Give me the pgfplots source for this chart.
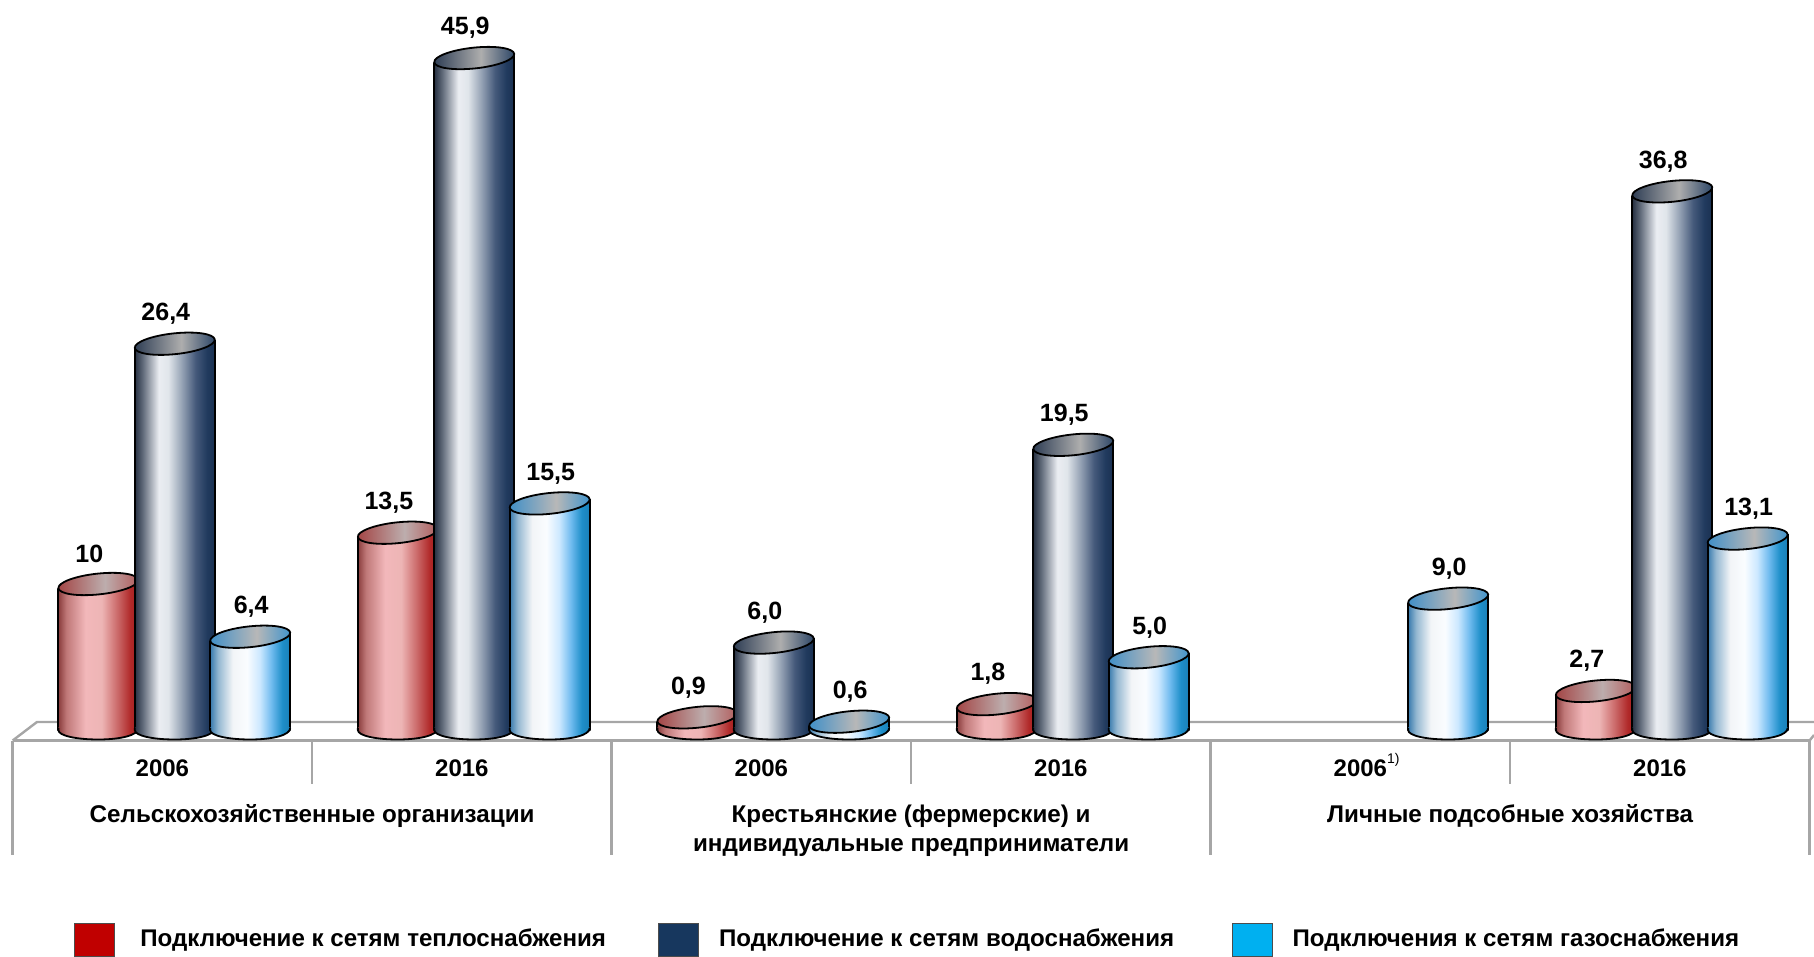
\documentclass[border=0pt]{standalone}
\usepackage{fontspec}
\setmainfont{Liberation Sans}
\usepackage{pgfplots}
\usepackage{pgfplotstable}
\pgfplotsset{compat=1.18}

\pgfplotstableread{
x y lab
0 10.0 10
1 13.5 13,5
2 0.9 0,9
3 1.8 1,8
5 2.7 2,7
}\redT
\pgfplotstableread{
x y lab
0 26.4 26,4
1 45.9 45,9
2 6.0 6,0
3 19.5 19,5
5 36.8 36,8
}\navyT
\pgfplotstableread{
x y lab
0 6.4 6,4
1 15.5 15,5
2 0.6 0,6
3 5.0 5,0
4 9.0 9,0
5 13.1 13,1
}\blueT

\pgfdeclarehorizontalshading{redcyl}{100bp}{
 rgb(0bp)=(0.54,0.24,0.24); rgb(25bp)=(0.54,0.24,0.24); rgb(30bp)=(0.75,0.47,0.47);
 rgb(42bp)=(0.95,0.72,0.73); rgb(52bp)=(0.93,0.71,0.71); rgb(63bp)=(0.78,0.38,0.38);
 rgb(70bp)=(0.69,0.16,0.16); rgb(75bp)=(0.64,0.12,0.12); rgb(100bp)=(0.64,0.12,0.12)}
\pgfdeclarehorizontalshading{navycyl}{100bp}{
 rgb(0bp)=(0.15,0.19,0.26); rgb(25bp)=(0.15,0.19,0.26); rgb(30bp)=(0.38,0.42,0.48);
 rgb(40bp)=(0.92,0.93,0.95); rgb(46bp)=(0.88,0.90,0.92); rgb(54bp)=(0.60,0.65,0.72);
 rgb(63bp)=(0.27,0.35,0.48); rgb(70bp)=(0.13,0.23,0.37); rgb(75bp)=(0.10,0.19,0.32); rgb(100bp)=(0.10,0.19,0.32)}
\pgfdeclarehorizontalshading{bluecyl}{100bp}{
 rgb(0bp)=(0.22,0.48,0.68); rgb(25bp)=(0.22,0.48,0.68); rgb(30bp)=(0.58,0.72,0.82);
 rgb(39bp)=(0.95,0.96,0.97); rgb(48bp)=(0.98,0.99,1.00); rgb(56bp)=(0.80,0.91,1.00);
 rgb(63bp)=(0.45,0.74,0.94); rgb(70bp)=(0.12,0.56,0.79); rgb(75bp)=(0.10,0.50,0.72); rgb(100bp)=(0.10,0.50,0.72)}
\pgfdeclarehorizontalshading{redcap}{100bp}{
 rgb(0bp)=(0.64,0.27,0.27); rgb(25bp)=(0.64,0.27,0.27); rgb(54bp)=(0.74,0.68,0.68);
 rgb(75bp)=(0.70,0.36,0.36); rgb(100bp)=(0.70,0.36,0.36)}
\pgfdeclarehorizontalshading{navycap}{100bp}{
 rgb(0bp)=(0.18,0.24,0.33); rgb(25bp)=(0.18,0.24,0.33); rgb(54bp)=(0.68,0.68,0.68);
 rgb(75bp)=(0.17,0.27,0.40); rgb(100bp)=(0.17,0.27,0.40)}
\pgfdeclarehorizontalshading{bluecap}{100bp}{
 rgb(0bp)=(0.25,0.56,0.78); rgb(25bp)=(0.25,0.56,0.78); rgb(54bp)=(0.72,0.72,0.72);
 rgb(75bp)=(0.25,0.58,0.80); rgb(100bp)=(0.25,0.58,0.80)}

\definecolor{gridgrey}{HTML}{A6A6A6}
\definecolor{legred}{HTML}{C00000}
\definecolor{legnavy}{HTML}{17375E}
\definecolor{legblue}{HTML}{00B0F0}

\newcommand{\defcyl}[1]{%
 \pgfdeclareplotmark{#1top}{%
  \begin{pgfscope}
   \pgfpathmoveto{\pgfpoint{-20pt}{-2.3pt}}
   \pgfpathlineto{\pgfpoint{20pt}{-2.3pt}}
   \pgfpathlineto{\pgfpoint{20pt}{2.2pt}}
   \pgfpathclose
   \pgfshadepath{#1cyl}{0}
   \pgfusepath{discard}
  \end{pgfscope}
  \path[draw=black,line width=0.9pt] (20pt,-2.4pt) -- (20pt,2.1pt);
  \path[draw=black,line width=0.9pt,shade,shading=#1cap]
     (19.99pt,2.10pt) .. controls (19.69pt,4.96pt) and (10.50pt,6.33pt) .. (-0.54pt,5.17pt)
     .. controls (-11.58pt,4.01pt) and (-20.29pt,0.75pt) .. (-19.99pt,-2.10pt)
     .. controls (-19.69pt,-4.96pt) and (-10.50pt,-6.33pt) .. (0.54pt,-5.17pt)
     .. controls (11.58pt,-4.01pt) and (20.29pt,-0.75pt) .. (19.99pt,2.10pt) -- cycle;
 }%
 \pgfdeclareplotmark{#1bot}{%
  \begin{pgfscope}
   \pgfpathmoveto{\pgfpoint{-20pt}{1pt}}
   \pgfpathlineto{\pgfpoint{-20pt}{-0.4pt}}
   \pgfpathcurveto{\pgfpoint{-20pt}{-3.2pt}}{\pgfpoint{-11pt}{-5.1pt}}{\pgfpoint{0pt}{-5.1pt}}
   \pgfpathcurveto{\pgfpoint{11pt}{-5.1pt}}{\pgfpoint{20pt}{-3pt}}{\pgfpoint{20pt}{0.6pt}}
   \pgfpathlineto{\pgfpoint{20pt}{1pt}}
   \pgfpathclose
   \pgfshadepath{#1cyl}{0}
   \pgfusepath{discard}
  \end{pgfscope}
  \path[draw=black,line width=0.9pt] (-20pt,0.6pt) -- (-20pt,-0.4pt)
     .. controls (-20pt,-3.2pt) and (-11pt,-5.1pt) .. (0pt,-5.1pt)
     .. controls (11pt,-5.1pt) and (20pt,-3pt) .. (20pt,0.6pt);
 }%
}
\defcyl{red}
\defcyl{navy}
\defcyl{blue}

% #1 table, #2 name, #3 shift in pt, #4 label xshift in pt, #5 categories
\newcommand{\cyl}[5]{%
 \pgfplotsinvokeforeach{#5}{%
  \addplot[forget plot,ybar,bar width=40pt,bar shift=#3pt,shade,shading=#2cyl,
    restrict x to domain=##1:##1,draw=none,draw opacity=0,line width=0.01pt,
    y filter/.expression={y-0.3}] table[x=x,y=y] {#1};
 }%
 \addplot[forget plot,ybar,bar width=0pt,bar shift=#3pt-20pt,draw=black,line width=0.9pt,
   y filter/.expression={y-0.3}] table[x=x,y=y] {#1};
 \addplot[forget plot,ybar,bar width=0pt,bar shift=#3pt+20pt,draw=black,line width=0.9pt,
   y filter/.expression={y-0.3}] table[x=x,y=y] {#1};
 \addplot[forget plot,only marks,mark=#2bot,mark options={xshift=#3pt,yshift=0.6pt}]
   table[x=x,y expr=0] {#1};
 \addplot[forget plot,only marks,mark=#2top,mark options={xshift=#3pt},
   point meta=explicit symbolic,nodes near coords,
   every node near coord/.append style={anchor=center,xshift=#4pt,yshift=15pt,
     font=\bfseries\fontsize{12.5}{14}\selectfont,text=black,inner sep=0pt}]
   table[x=x,y=y,meta=lab] {#1};
}

\begin{document}
\begin{tikzpicture}
\begin{axis}[
  scale only axis, width=907pt, height=478.5pt,
  xmin=-0.5422, xmax=5.5147, ymin=-15.46, ymax=49.863,
  axis line style={draw=none}, tick style={draw=none}, major tick length=0pt,
  ytick=\empty, xtick={0,1,2,3,4,5},
  xticklabels={2006,2016,2006,2016,{2006\rlap{\raisebox{1.05ex}{\fontsize{7}{7}\selectfont\mdseries 1)}}},2016},
  xticklabel style={anchor=base,yshift=90.2pt,font=\bfseries\fontsize{12}{14}\selectfont},
  clip=true, clip mode=individual, clip marker paths=true,
  legend columns=3,
  legend style={at={(rel axis cs:0.0408,0)},anchor=south west,draw=none,fill=none,inner sep=0pt,
    font=\bfseries\fontsize{12.05}{14}\selectfont,
    /tikz/every even column/.append style={column sep=18.8pt},
    nodes={inner xsep=10pt,inner ysep=0pt}},
  legend cell align=left,
  legend image code/.code={\draw[#1] (0pt,-8.3pt) rectangle (20pt,8.3pt);},
]
\addlegendimage{fill=legred,draw=black!70}
\addlegendentry{\kern2.6ptПодключение к сетям теплоснабжения\kern-2.6pt}
\addlegendimage{fill=legnavy,draw=black!70}
\addlegendentry{Подключение к сетям водоснабжения}
\addlegendimage{fill=legblue,draw=black!70}
\addlegendentry{Подключения к сетям газоснабжения}

\addplot[forget plot,gridgrey,line width=1.2pt] coordinates {(-0.5,-0.683) (5.5,-0.683)};
\addplot[forget plot,gridgrey,line width=1.2pt] coordinates {(-0.5,-0.683) (-0.4187,0.58) (5.5147,0.58)};
\addplot[forget plot,gridgrey,line width=1.2pt] coordinates {(5.5,-0.683) (5.5147,-0.307)};
\addplot[forget plot,gridgrey,line width=1.2pt] coordinates {(-0.5,-0.683) (-0.5,-8.5)};
\addplot[forget plot,gridgrey,line width=1.2pt] coordinates {(1.5,-0.683) (1.5,-8.5)};
\addplot[forget plot,gridgrey,line width=1.2pt] coordinates {(3.5,-0.683) (3.5,-8.5)};
\addplot[forget plot,gridgrey,line width=1.2pt] coordinates {(5.5,-0.683) (5.5,-8.5)};
\addplot[forget plot,gridgrey,line width=1.2pt] coordinates {(0.5,-0.683) (0.5,-3.65)};
\addplot[forget plot,gridgrey,line width=1.2pt] coordinates {(2.5,-0.683) (2.5,-3.65)};
\addplot[forget plot,gridgrey,line width=1.2pt] coordinates {(4.5,-0.683) (4.5,-3.65)};

\cyl{\redT}{red}{-32}{-4.5}{0,1,2,3,5}
\cyl{\navyT}{navy}{6.2}{-4.5}{0,1,2,3,5}
\cyl{\blueT}{blue}{43.9}{0.5}{0,1,2,3,4,5}

\node[font=\bfseries\fontsize{12.1}{14}\selectfont,anchor=center] at (axis cs:0.5,-5.84) {Сельскохозяйственные организации};
\node[font=\bfseries\fontsize{12.1}{14.5}\selectfont,anchor=center,align=center] at (axis cs:2.5,-6.84) {Крестьянские (фермерские) и\\индивидуальные предприниматели};
\node[font=\bfseries\fontsize{12.1}{14}\selectfont,anchor=center] at (axis cs:4.5,-5.84) {Личные подсобные хозяйства};
\end{axis}
\end{tikzpicture}
\end{document}
